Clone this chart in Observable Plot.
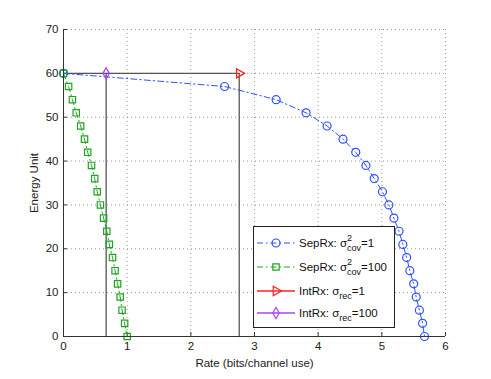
<!DOCTYPE html>
<html>
<head>
<meta charset="utf-8">
<script src="https://cdn.jsdelivr.net/npm/d3@7"></script>
<script src="https://cdn.jsdelivr.net/npm/@observablehq/plot@0.6"></script>
<style>
  html, body { margin: 0; padding: 0; background: white; }
</style>
</head>
<body>
<div id="chart"></div>
<script>
// Data
const energy = [60,57,54,51,48,45,42,39,36,33,30,27,24,21,18,15,12,9,6,3,0];
const sepRxCov1 = [0,2.53,3.34,3.81,4.14,4.39,4.59,4.75,4.88,5.01,5.11,5.19,5.27,5.33,5.39,5.44,5.50,5.54,5.59,5.64,5.67];
const sepRxCov100 = [0,0.08,0.14,0.20,0.27,0.33,0.38,0.44,0.49,0.53,0.58,0.63,0.68,0.72,0.77,0.81,0.85,0.89,0.92,0.96,1.0];
const intRxRate = [2.76, 0.67];   // sigma_rec = 1, sigma_rec = 100
const intRxEnergy = 60;
const xTicks = [0,1,2,3,4,5,6];
const yTicks = [0,10,20,30,40,50,60,70];

const blue = "#2f50ff", green = "#1fa51f", red = "#ff2020", purple = "#a844ff", gray = "#555555";
const font = "'Liberation Sans', Arial, Helvetica, sans-serif";

const s1 = energy.map((e, i) => ({x: sepRxCov1[i], y: e}));
const s100 = energy.map((e, i) => ({x: sepRxCov100[i], y: e}));
const redPath = [{x: 0, y: intRxEnergy}, {x: intRxRate[0], y: intRxEnergy}, {x: intRxRate[0], y: 0}];
const purplePath = [{x: intRxRate[1], y: intRxEnergy}, {x: intRxRate[1], y: 0}];

const chart = Plot.plot({
  width: 491, height: 379,
  marginLeft: 63, marginRight: 46, marginTop: 29, marginBottom: 43,
  x: {domain: [0, 6]},
  y: {domain: [0, 70]},
  style: {fontFamily: font, fontSize: "11px", background: "white", color: "#222"},
  marks: [
    Plot.ruleX(xTicks.filter(d => d > 0), {x: d => d, stroke: "#999", strokeDasharray: "1,3", strokeWidth: 1}),
    Plot.ruleY(yTicks.filter(d => d > 0), {y: d => d, stroke: "#999", strokeDasharray: "1,3", strokeWidth: 1}),
    Plot.axisX({ticks: xTicks, tickFormat: d3.format("d"), tickSize: 0, tickPadding: 5, fontSize: 11.5,
      label: "Rate (bits/channel use)", labelAnchor: "center", labelArrow: "none", labelOffset: 30}),
    Plot.axisY({ticks: yTicks, tickFormat: d3.format("d"), tickSize: 0, tickPadding: 5, fontSize: 11.5,
      label: "Energy Unit", labelAnchor: "center", labelArrow: "none", labelOffset: 34}),
    Plot.ruleX(xTicks, {x: d => d, y1: 0, y2: 0.9, stroke: "#333"}),
    Plot.ruleY(yTicks, {y: d => d, x1: 0, x2: 0.063, stroke: "#333"}),
    // IntRx rate-region boundaries
    Plot.line(redPath, {x: "x", y: "y", stroke: gray, strokeWidth: 1.3}),
    Plot.line(purplePath, {x: "x", y: "y", stroke: gray, strokeWidth: 1.3}),
    // SepRx curves
    Plot.line(s1, {x: "x", y: "y", stroke: blue, strokeWidth: 1, strokeDasharray: "6,3,1.5,3"}),
    Plot.dot(s1, {x: "x", y: "y", r: 4, stroke: blue, fill: "none", strokeWidth: 1.2}),
    Plot.line(s100, {x: "x", y: "y", stroke: green, strokeWidth: 1, strokeDasharray: "6,3,1.5,3"}),
    Plot.dot(s100, {x: "x", y: "y", symbol: "square", r: 3.6, stroke: green, fill: "none", strokeWidth: 1.2}),
    Plot.dot([{x: intRxRate[0], y: intRxEnergy}], {x: "x", y: "y", symbol: "triangle", rotate: 90, r: 3.4, stroke: red, fill: "none", strokeWidth: 1.3}),
    Plot.dot([{x: intRxRate[1], y: intRxEnergy}], {x: "x", y: "y", symbol: "diamond", r: 3.4, stroke: purple, fill: "none", strokeWidth: 1.3}),
    Plot.ruleX([0], {stroke: "#333"}),
    Plot.ruleY([0], {stroke: "#333"})
  ]
});
document.getElementById("chart").appendChild(chart);

// Legend (inside the plot, lower right)
const svg = d3.select(chart);
const lg = svg.append("g").attr("font-family", font).attr("font-size", 11.5).attr("fill", "#111").attr("text-anchor", "start");
lg.append("rect").attr("x", 253.5).attr("y", 226.5).attr("width", 141).attr("height", 101)
  .attr("fill", "white").attr("stroke", "#222").attr("stroke-width", 1);
const entries = [
  {y: 243, color: blue, dash: "6,3,1.5,3", sym: d3.symbolCircle, size: 50, rot: 0, main: "SepRx: σ", sup: "2", sub: "cov", tail: "=1"},
  {y: 267, color: green, dash: "6,3,1.5,3", sym: d3.symbolSquare, size: 40, rot: 0, main: "SepRx: σ", sup: "2", sub: "cov", tail: "=100"},
  {y: 291, color: red, dash: null, sym: d3.symbolTriangle, size: 40, rot: 90, main: "IntRx: σ", sup: null, sub: "rec", tail: "=1"},
  {y: 313, color: purple, dash: null, sym: d3.symbolDiamond, size: 36, rot: 0, main: "IntRx: σ", sup: null, sub: "rec", tail: "=100"}
];
for (const e of entries) {
  lg.append("line").attr("x1", 257).attr("x2", 295).attr("y1", e.y).attr("y2", e.y)
    .attr("stroke", e.color).attr("stroke-width", e.dash ? 1 : 1.3).attr("stroke-dasharray", e.dash);
  lg.append("path").attr("d", d3.symbol(e.sym, e.size)())
    .attr("transform", `translate(276,${e.y}) rotate(${e.rot})`)
    .attr("fill", "none").attr("stroke", e.color).attr("stroke-width", 1.2);
  const t = lg.append("text").attr("x", 299).attr("y", e.y + 4);
  t.append("tspan").text(e.main);
  if (e.sup) {
    t.append("tspan").attr("dy", -6).attr("font-size", 9).text(e.sup);
    t.append("tspan").attr("dx", -5).attr("dy", 10).attr("font-size", 9).text(e.sub);
    t.append("tspan").attr("dy", -4).text(e.tail);
  } else {
    t.append("tspan").attr("dy", 4).attr("font-size", 9).text(e.sub);
    t.append("tspan").attr("dy", -4).text(e.tail);
  }
}
</script>
</body>
</html>
